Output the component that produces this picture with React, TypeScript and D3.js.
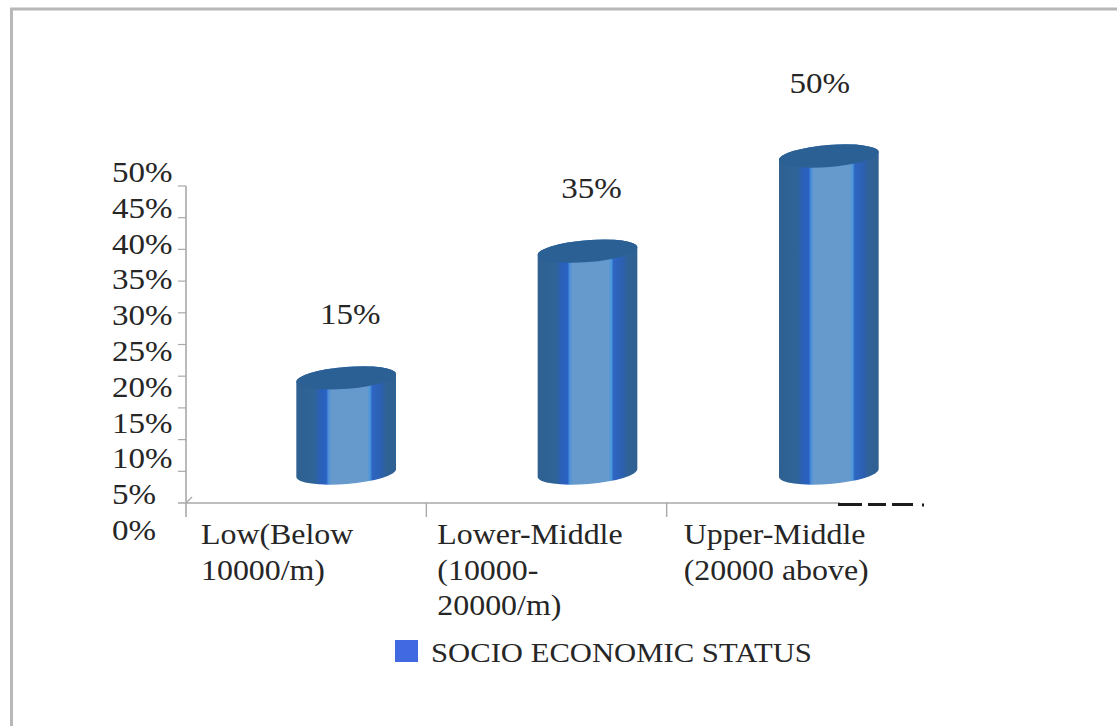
import React from "react";
import * as d3 from "d3";

const categories = ["Low", "Lower-Middle", "Upper-Middle"];
const categoryLines = [
  ["Low(Below", "10000/m)"],
  ["Lower-Middle", "(10000-", "20000/m)"],
  ["Upper-Middle", "(20000 above)"],
];
const shares = [15, 35, 50];
const tickValues = [0, 5, 10, 15, 20, 25, 30, 35, 40, 45, 50];
const legendLabel = "SOCIO ECONOMIC STATUS";

const W = 1117;
const H = 726;
const SERIF = "'Liberation Serif', 'Times New Roman', serif";
const INK = "#262626";
const AXIS = "#a9a9a9";

// Axis line and its tick marks
const y = d3.scaleLinear().domain([0, 50]).range([503, 186]);
// The tick labels run on a slightly wider spacing than the tick marks
const yLabel = d3.scaleLinear().domain([0, 50]).range([540, 182]);
const x = d3.scaleBand().domain(categories).range([186, 907]);

const BAR_W = 100;
const RY = 11;
const TILT = -4.6;
const DEPTH = 30; // drawn cylinders sit this far above the axis plane
const barShift = [40, 41, 42];
const labelNudgeX = [4, 4, -9];
const labelNudgeY = [-54, -53, -63];
const catNudge = [15, 11, 17];

function Txt({ x, y, size = 29, sx = 1.1, children, anchor = "start" }: any) {
  return (
    <text
      transform={`translate(${x},${y}) scale(${sx},1)`}
      fontFamily={SERIF}
      fontSize={size}
      fill={INK}
      textAnchor={anchor}
    >
      {children}
    </text>
  );
}

function cylinderPath(cx: number, top: number, bottom: number) {
  const r = BAR_W / 2;
  const t = (TILT * Math.PI) / 180;
  const dy = Math.sin(t) * r;
  const dx = Math.cos(t) * r;
  return (
    `M${cx - dx},${top - dy}` +
    `A${r},${RY} ${TILT} 0 1 ${cx + dx},${top + dy}` +
    `L${cx + dx},${bottom + dy}` +
    `A${r},${RY} ${TILT} 0 1 ${cx - dx},${bottom - dy}Z`
  );
}

function topFace(cx: number, top: number) {
  const r = BAR_W / 2;
  const t = (TILT * Math.PI) / 180;
  const dy = Math.sin(t) * r;
  const dx = Math.cos(t) * r;
  return (
    `M${cx - dx},${top - dy}` +
    `A${r},${RY} ${TILT} 0 1 ${cx + dx},${top + dy}` +
    `A${r},${RY} ${TILT} 0 1 ${cx - dx},${top - dy}Z`
  );
}

const bodyStops: [number, string][] = [
  [0, "#2f6091"],
  [0.18, "#2f6497"],
  [0.24, "#2a60b8"],
  [0.3, "#2a62c4"],
  [0.32, "#4a90dc"],
  [0.35, "#6699cc"],
  [0.71, "#6699cc"],
  [0.74, "#4a98dc"],
  [0.76, "#2e66c4"],
  [0.85, "#2c60b0"],
  [0.9, "#2f6297"],
  [1, "#2f6092"],
];

export default function App() {
  return (
    <svg
      width={W}
      height={H}
      viewBox={`0 0 ${W} ${H}`}
      style={{ position: "absolute", left: 0, top: 0, background: "#fff" }}
    >
      <defs>
        <linearGradient id="cyl" x1="0" x2="1" y1="0" y2="0">
          {bodyStops.map(([o, c]) => (
            <stop key={o} offset={o} stopColor={c} />
          ))}
        </linearGradient>
      </defs>

      {/* Frame */}
      <path d={`M${W},9H11.5V${H}`} fill="none" stroke="#b8b8b8" strokeWidth={3} />

      {/* Value axis */}
      <line x1={186} x2={186} y1={y(50)} y2={517} stroke={AXIS} strokeWidth={1.6} />
      {tickValues.slice(1).map((v) => (
        <line key={v} x1={178} x2={186} y1={y(v)} y2={y(v)} stroke={AXIS} strokeWidth={1.2} />
      ))}
      <line x1={186} x2={192} y1={y(0)} y2={y(0) - 6} stroke={AXIS} strokeWidth={1.2} />
      {tickValues.map((v) => (
        <Txt key={v} x={112} y={yLabel(v)} sx={1.14}>{`${v}%`}</Txt>
      ))}

      {/* Category axis */}
      <line x1={178} x2={840} y1={y(0)} y2={y(0)} stroke={AXIS} strokeWidth={1.6} />
      {[1, 2].map((i) => {
        const px = x(categories[i]) as number;
        return <line key={i} x1={px} x2={px} y1={y(0)} y2={517} stroke={AXIS} strokeWidth={1.4} />;
      })}
      <path
        d="M838,504.5H862M868,504.5H886M892,504.5H913M922,505H924"
        stroke="#1c1c1c"
        strokeWidth={3}
        fill="none"
      />

      {/* Cylinders */}
      {categories.map((c, i) => {
        const cx = (x(c) as number) + x.bandwidth() / 2 + barShift[i];
        const top = y(shares[i]) - DEPTH;
        const bottom = y(0) - DEPTH;
        return (
          <g key={c}>
            <path d={cylinderPath(cx, top, bottom)} fill="url(#cyl)" />
            <path d={topFace(cx, top)} fill="#2b6095" />
            <Txt x={cx + labelNudgeX[i]} y={top + labelNudgeY[i]} anchor="middle" sx={1.14}>
              {`${shares[i]}%`}
            </Txt>
          </g>
        );
      })}

      {/* Category labels */}
      {categories.map((c, i) =>
        categoryLines[i].map((line, j) => (
          <Txt key={line} x={(x(c) as number) + catNudge[i]} y={544 + j * 35.5} sx={1.1}>
            {line}
          </Txt>
        ))
      )}

      {/* Legend */}
      <rect x={395} y={640} width={23} height={22} fill="#4169e1" />
      <Txt x={431} y={662} size={28} sx={1.095}>
        {legendLabel}
      </Txt>
    </svg>
  );
}
